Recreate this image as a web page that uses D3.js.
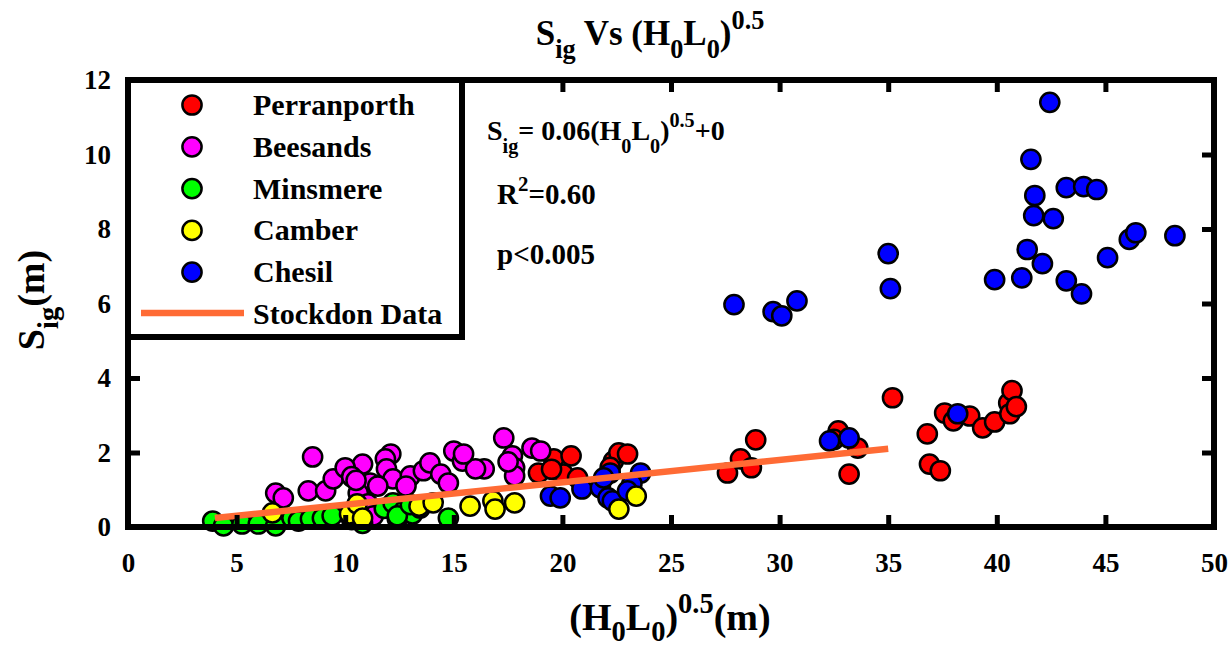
<!DOCTYPE html>
<html>
<head>
<meta charset="utf-8">
<script src="https://cdn.jsdelivr.net/npm/d3@7"></script>
<style>
  body { margin: 0; background: #fff; }
  svg { display: block; }
  text { font-family: "Liberation Serif", "Times New Roman", serif; font-weight: bold; fill: #000; }
</style>
</head>
<body>
<svg id="chart" width="1229" height="652"></svg>
<script>
// Axis ticks
const xTicks = [0, 5, 10, 15, 20, 25, 30, 35, 40, 45, 50];
const yTicks = [0, 2, 4, 6, 8, 10, 12];

// Perranporth
const perranX = [18.9, 19.6, 20.4, 20.05, 20.7, 19.5, 22.35, 22.6, 23.0, 22.2,
                 27.6, 28.2, 28.7, 28.9, 32.7, 32.5, 33.6, 33.2, 35.2, 36.8,
                 36.9, 37.4, 37.6, 38.0, 38.75, 39.35, 39.9, 40.55, 40.7, 40.6, 40.9];
const perranY = [1.45, 1.83, 1.91, 1.42, 1.32, 1.55, 1.77, 1.99, 1.96, 1.6,
                 1.45, 1.83, 1.59, 2.34, 2.58, 2.35, 2.12, 1.42, 3.47, 2.50,
                 1.69, 1.51, 3.06, 2.85, 2.98, 2.66, 2.82, 3.33, 3.66, 3.04, 3.23];

// Beesands
const beesX = [8.5, 6.8, 7.15, 8.3, 9.1, 9.45, 15.0, 15.4, 12.1, 11.85,
               10.8, 10.0, 11.9, 12.2, 13.0, 13.6, 13.9, 14.4, 14.75, 11.15,
               10.6, 11.05, 11.3, 12.4, 17.3, 17.7, 17.8, 17.8, 18.6, 19.0,
               16.4, 16.0, 15.45, 10.3, 11.5, 10.5, 12.8, 17.5];
const beesY = [1.88, 0.91, 0.78, 0.97, 0.97, 1.29, 2.04, 1.77, 1.96, 1.83,
               1.69, 1.59, 1.56, 1.29, 1.37, 1.51, 1.72, 1.42, 1.18, 1.18,
               0.91, 0.62, 0.30, 0.22, 2.39, 1.91, 1.59, 1.37, 2.12, 2.04,
               1.56, 1.56, 1.96, 1.35, 1.10, 1.25, 1.10, 1.75];

// Minsmere
const minsX = [3.9, 4.4, 5.25, 6.0, 6.8, 7.55, 7.85, 8.4, 8.95, 9.4,
               10.3, 10.8, 11.8, 12.2, 12.7, 13.1, 13.45, 12.4, 14.75, 13.0];
const minsY = [0.16, 0.03, 0.08, 0.08, 0.03, 0.24, 0.16, 0.22, 0.24, 0.30,
               0.20, 0.10, 0.50, 0.65, 0.43, 0.35, 0.51, 0.30, 0.24, 0.60];

// Chesil
const chesilX = [19.45, 19.9, 20.9, 21.75, 22.1, 22.3, 22.2, 23.6, 23.2, 23.0,
                 21.9, 27.9, 29.7, 30.1, 30.8, 32.3, 33.2, 35.0, 35.1, 38.2,
                 39.9, 41.15, 41.4, 41.57, 41.7, 41.75, 42.1, 42.44, 42.6, 43.2,
                 43.2, 43.9, 44.0, 44.6, 45.1, 46.1, 46.4, 48.2];
const chesilY = [0.83, 0.78, 1.02, 1.05, 0.78, 0.70, 1.45, 1.45, 1.16, 0.97,
                 1.32, 5.97, 5.78, 5.67, 6.07, 2.31, 2.39, 7.34, 6.40, 3.04,
                 6.64, 6.69, 7.45, 9.87, 8.36, 8.90, 7.07, 11.40, 8.28, 9.11,
                 6.61, 6.26, 9.14, 9.06, 7.23, 7.72, 7.90, 7.82];

// Camber
const camberX = [6.65, 10.2, 10.55, 10.8, 13.4, 14.05, 15.75, 16.8, 16.9, 17.8, 22.6, 23.4];
const camberY = [0.38, 0.35, 0.62, 0.24, 0.56, 0.65, 0.56, 0.70, 0.48, 0.65, 0.48, 0.83];

// Stockdon fit: S_ig = 0.06 (H0 L0)^0.5
const stockdonX = [4, 35];
const stockdonY = [0.24, 2.10];

const seriesNames = ["Perranporth", "Beesands", "Minsmere", "Camber", "Chesil"];
const seriesColors = ["#ff0000", "#ff00ff", "#00ff00", "#ffff00", "#0000ff"];
const lineColor = "#ff6b35";

const svg = d3.select("#chart");
const x = d3.scaleLinear().domain([0, 50]).range([128, 1214]);
const y = d3.scaleLinear().domain([0, 12]).range([527, 80]);

const zip = (xs, ys) => xs.map((v, i) => [v, ys[i]]);

// Points, drawn series by series
const drawOrder = [
  [zip(perranX, perranY), seriesColors[0]],
  [zip(beesX, beesY), seriesColors[1]],
  [zip(minsX, minsY), seriesColors[2]],
  [zip(chesilX, chesilY), seriesColors[4]],
  [zip(camberX, camberY), seriesColors[3]]
];
const R = 9.6;
drawOrder.forEach(([pts, col]) => {
  svg.append("g").selectAll("circle").data(pts).join("circle")
    .attr("cx", d => x(d[0])).attr("cy", d => y(d[1])).attr("r", R)
    .attr("fill", col).attr("stroke", "#000").attr("stroke-width", 2.5);
});

// Stockdon line
svg.append("path")
  .datum(zip(stockdonX, stockdonY))
  .attr("d", d3.line().x(d => x(d[0])).y(d => y(d[1])))
  .attr("fill", "none").attr("stroke", lineColor).attr("stroke-width", 6.5);

// Axes with inward ticks on all four sides
const tickW = 5, tickL = 12;
function styleAxis(g) {
  g.selectAll(".domain").remove();
  g.selectAll(".tick line").attr("stroke", "#000").attr("stroke-width", tickW);
  g.selectAll(".tick text").style("font-size", "27px")
    .style("font-family", '"Liberation Serif", serif').style("font-weight", "bold");
}
svg.append("g").attr("transform", `translate(0,${y(0)})`)
  .call(d3.axisBottom(x).tickValues(xTicks).tickSize(-tickL).tickPadding(26).tickFormat(d3.format("d")))
  .call(styleAxis);
svg.append("g").attr("transform", `translate(0,${y(12)})`)
  .call(d3.axisTop(x).tickValues(xTicks).tickSize(-tickL).tickFormat(""))
  .call(styleAxis);
svg.append("g").attr("transform", `translate(${x(0)},0)`)
  .call(d3.axisLeft(y).tickValues(yTicks).tickSize(-tickL).tickPadding(17).tickFormat(d3.format("d")))
  .call(styleAxis);
svg.append("g").attr("transform", `translate(${x(50)},0)`)
  .call(d3.axisRight(y).tickValues(yTicks).tickSize(-tickL).tickFormat(""))
  .call(styleAxis);

// Frame
svg.append("rect")
  .attr("x", x(0)).attr("y", y(12))
  .attr("width", x(50) - x(0)).attr("height", y(0) - y(12))
  .attr("fill", "none").attr("stroke", "#000").attr("stroke-width", 6);

// Legend
const legend = svg.append("g");
legend.append("rect").attr("x", 128).attr("y", 80).attr("width", 334).attr("height", 257)
  .attr("fill", "#fff").attr("stroke", "#000").attr("stroke-width", 6);
const legendRows = [0, 1, 2, 3, 4];
legendRows.forEach(i => {
  const ly = 105 + i * 41.8;
  legend.append("circle").attr("cx", 192).attr("cy", ly).attr("r", R)
    .attr("fill", seriesColors[i]).attr("stroke", "#000").attr("stroke-width", 2.5);
  legend.append("text").attr("x", 253).attr("y", ly + 10).style("font-size", "30px").text(seriesNames[i]);
});
legend.append("line").attr("x1", 141).attr("x2", 244).attr("y1", 313).attr("y2", 313)
  .attr("stroke", lineColor).attr("stroke-width", 6.5);
legend.append("text").attr("x", 253).attr("y", 324).style("font-size", "30px").text("Stockdon Data");

// Rich text helper: parts = [[text, 'n'|'sub'|'sup'], ...]
function rich(sel, parts, size, smallRatio = 0.72, subShift = 0.45, supShift = 0.45) {
  const small = size * smallRatio;
  let shift = 0;
  parts.forEach(([t, kind]) => {
    const target = kind === "sub" ? size * subShift : kind === "sup" ? -size * supShift : 0;
    sel.append("tspan").attr("dy", target - shift)
      .style("font-size", (kind === "n" ? size : small) + "px").text(t);
    shift = target;
  });
}

// Title
rich(svg.append("text").attr("x", 650).attr("y", 45).attr("text-anchor", "middle"),
  [["S", "n"], ["ig", "sub"], [" Vs (H", "n"], ["0", "sub"], ["L", "n"], ["0", "sub"], [")", "n"], ["0.5", "sup"]], 35, 0.75, 0.38);

// Axis titles
rich(svg.append("text").attr("x", 670).attr("y", 630).attr("text-anchor", "middle"),
  [["(H", "n"], ["0", "sub"], ["L", "n"], ["0", "sub"], [")", "n"], ["0.5", "sup"], ["(m)", "n"]], 38, 0.75, 0.3);
rich(svg.append("text").attr("transform", "translate(44,300) rotate(-90)").attr("text-anchor", "middle"),
  [["S", "n"], ["ig", "sub"], ["(m)", "n"]], 38, 0.75, 0.38);

// Fit statistics
rich(svg.append("text").attr("x", 487).attr("y", 140),
  [["S", "n"], ["ig", "sub"], ["= 0.06(H", "n"], ["0", "sub"], ["L", "n"], ["0", "sub"], [")", "n"], ["0.5", "sup"], ["+0", "n"]], 28);
rich(svg.append("text").attr("x", 497).attr("y", 204),
  [["R", "n"], ["2", "sup"], ["=0.60", "n"]], 29);
svg.append("text").attr("x", 497).attr("y", 264).style("font-size", "29px").text("p<0.005");
</script>
</body>
</html>
